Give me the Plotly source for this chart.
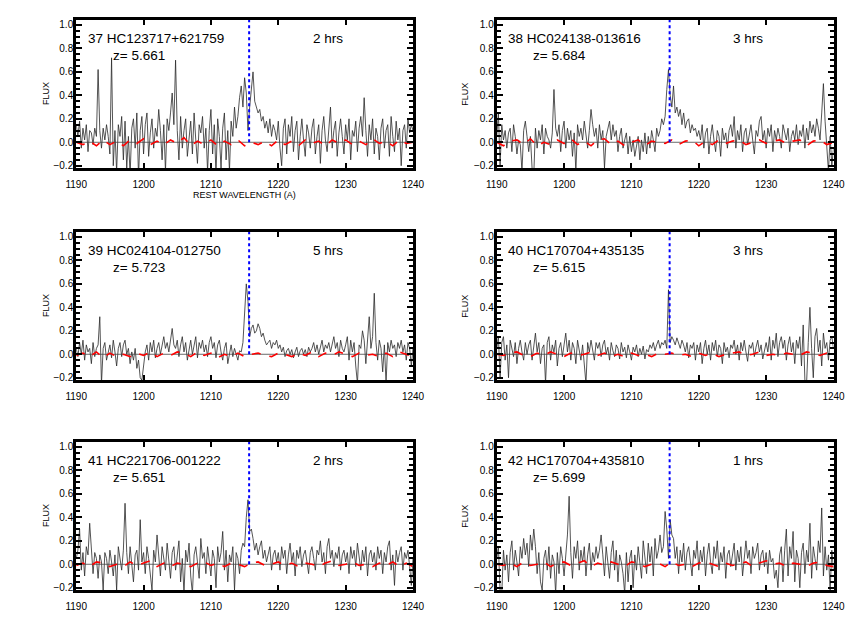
import numpy as np
import plotly.graph_objects as go

LYA = 1215.67
WAVE_RANGE = [1190, 1240]
FLUX_RANGE = [-0.221, 1.043]

NAMES = ["37 HC123717+621759", "38 HC024138-013616", "39 HC024104-012750",
         "40 HC170704+435135", "41 HC221706-001222", "42 HC170704+435810"]
REDSHIFTS = ["5.661", "5.684", "5.723", "5.615", "5.651", "5.699"]
HOURS = [2, 3, 5, 3, 2, 1]

# spectra sampled every 0.25 A from 1190 to 1240
FLUX_37 = [
    0.15, 0.05, 0.18, -0.05, 0.12, 0.02, 0.15, -0.08, 0.10, 0.08, -0.02, 0.12, 0.05, 0.62, 0.10, -0.05, 0.12, 0.02, 0.15, 0.05,
    -0.10, 0.72, -0.20, 0.10, -0.25, 0.15, 0.05, 0.22, -0.15, 0.18, -0.22, 0.05, -0.28, 0.12, 0.20, -0.05, 0.25, -0.30, 0.10, 0.22,
    -0.10, 0.15, 0.25, -0.12, 0.08, 0.20, -0.05, 0.12, 0.05, 0.28, 0.10, -0.15, 0.15, -0.25, 0.20, 0.10, 0.25, 0.42, 0.15, 0.70,
    0.10, -0.15, 0.22, -0.05, 0.10, 0.20, -0.12, 0.05, 0.18, -0.10, 0.25, 0.02, -0.18, 0.15, 0.08, 0.22, -0.05, 0.12, -0.25, 0.10,
    0.28, -0.10, 0.15, -0.28, 0.20, 0.05, -0.22, 0.12, 0.25, -0.15, 0.10, -0.25, 0.18, 0.05, 0.30, 0.12, 0.22, 0.38, 0.48, 0.30,
    0.55, 0.42, 0.10, 0.30, 0.45, 0.60, 0.35, 0.30, 0.25, 0.28, 0.18, 0.22, 0.12, 0.18, 0.08, 0.20, 0.05, 0.15, 0.10, 0.02,
    0.18, -0.05, -0.20, 0.12, 0.20, -0.10, 0.15, 0.05, 0.22, -0.08, 0.10, 0.18, -0.15, 0.05, 0.20, 0.02, -0.12, 0.15, 0.08, -0.05,
    0.12, 0.20, -0.10, 0.05, 0.15, -0.18, 0.10, 0.22, 0.02, -0.08, 0.15, 0.30, -0.05, 0.10, 0.18, -0.12, 0.08, 0.20, 0.05, -0.10,
    0.15, 0.02, 0.20, -0.15, 0.10, 0.05, 0.18, -0.08, 0.12, 0.22, 0.05, 0.38, 0.10, -0.12, 0.15, 0.02, 0.20, -0.10, 0.12, 0.05,
    -0.15, 0.12, 0.20, -0.05, 0.10, 0.15, -0.12, 0.22, 0.05, -0.08, 0.18, 0.02, 0.12, -0.20, 0.10, 0.15, -0.05, 0.20, 0.08, 0.15,
    0.10,
]
FLUX_38 = [
    0.05, 0.25, -0.20, 0.15, 0.02, 0.10, -0.05, 0.08, 0.12, -0.08, 0.15, 0.05, -0.10, 0.02, -0.02, -0.25, 0.10, 0.18, 0.05, -0.08,
    0.05, -0.22, -0.28, 0.12, -0.05, 0.10, 0.02, 0.15, -0.10, 0.12, 0.05, 0.02, -0.05, 0.08, 0.45, 0.12, 0.05, 0.15, -0.08, 0.10,
    0.18, -0.05, 0.12, 0.02, 0.10, -0.12, 0.08, -0.25, 0.15, 0.05, 0.12, 0.02, 0.18, 0.08, -0.05, 0.10, 0.28, 0.15, 0.05, 0.12,
    -0.05, 0.15, 0.02, 0.10, -0.22, 0.05, 0.12, 0.18, 0.02, 0.15, 0.05, 0.10, -0.08, 0.05, 0.12, -0.05, 0.02, 0.08, -0.10, 0.05,
    -0.08, 0.02, -0.12, -0.05, 0.05, -0.15, 0.02, -0.08, 0.08, -0.10, 0.05, -0.05, 0.10, 0.02, -0.08, 0.12, 0.05, 0.10, 0.20, 0.15,
    0.22, 0.45, 0.62, 0.40, 0.30, 0.48, 0.25, 0.30, 0.22, 0.28, 0.15, 0.25, 0.12, 0.18, 0.20, 0.08, 0.15, 0.10, 0.12, 0.05,
    0.10, 0.02, 0.15, -0.05, 0.08, 0.12, -0.10, 0.05, 0.15, 0.02, -0.08, 0.10, 0.05, -0.12, 0.12, 0.02, 0.08, -0.05, 0.10, 0.15,
    0.05, 0.22, -0.05, 0.10, 0.02, 0.15, -0.08, 0.08, 0.12, -0.02, 0.05, 0.15, 0.02, -0.10, 0.10, 0.05, 0.18, 0.22, 0.02, 0.10,
    -0.05, 0.12, 0.05, 0.15, -0.08, 0.10, 0.02, 0.12, 0.05, -0.05, 0.15, 0.08, 0.02, 0.12, -0.08, 0.05, 0.10, 0.02, 0.15, -0.02,
    0.10, 0.05, 0.15, -0.05, 0.12, 0.02, 0.18, 0.08, 0.15, 0.05, 0.20, 0.12, 0.02, 0.25, 0.50, 0.18, -0.10, -0.25, 0.05, -0.20,
    -0.05,
]
FLUX_39 = [
    0.05, -0.02, 0.10, 0.00, 0.12, -0.05, 0.08, 0.02, 0.05, -0.08, 0.10, -0.02, 0.05, 0.08, 0.32, -0.25, 0.05, 0.10, -0.05, 0.02,
    0.08, -0.03, 0.12, 0.02, -0.10, 0.05, 0.10, -0.02, 0.08, 0.12, 0.00, 0.05, -0.08, 0.02, -0.05, 0.05, -0.12, -0.05, -0.20, -0.22,
    -0.10, 0.02, 0.08, -0.05, 0.10, 0.02, 0.12, -0.03, 0.05, 0.10, 0.00, 0.08, 0.15, 0.05, 0.10, 0.02, 0.12, 0.22, 0.08, 0.05,
    0.12, -0.02, 0.08, 0.15, 0.02, 0.10, -0.05, 0.05, 0.12, 0.00, 0.08, 0.15, -0.03, 0.10, 0.05, 0.12, 0.02, 0.08, -0.02, 0.10,
    0.15, 0.05, 0.10, -0.03, 0.08, 0.12, 0.02, -0.05, 0.05, 0.10, -0.08, 0.02, 0.08, -0.02, 0.05, 0.00, -0.05, 0.03, 0.02, 0.10,
    0.40, 0.60, 0.45, 0.15, 0.22, 0.25, 0.18, 0.20, 0.26, 0.22, 0.15, 0.18, 0.12, 0.08, 0.10, 0.12, 0.05, 0.10, 0.08, 0.12,
    0.05, 0.08, 0.02, 0.06, -0.02, 0.03, 0.05, 0.00, 0.04, -0.03, 0.02, 0.06, -0.02, 0.03, 0.05, 0.00, 0.04, -0.02, 0.06, 0.02,
    0.05, 0.10, 0.02, 0.08, 0.00, 0.06, 0.12, 0.02, 0.08, 0.05, 0.10, 0.02, 0.08, 0.15, 0.05, 0.10, -0.02, 0.12, 0.05, 0.02,
    0.08, 0.15, -0.05, 0.12, 0.02, 0.10, -0.10, -0.25, 0.08, 0.05, 0.20, 0.12, -0.08, 0.10, 0.32, 0.05, 0.15, 0.52, 0.10, -0.05,
    0.12, 0.05, -0.15, 0.08, -0.25, 0.10, 0.02, 0.12, 0.05, 0.08, -0.02, 0.10, 0.05, 0.12, 0.02, 0.08, -0.05, 0.10, 0.05, -0.10,
    0.05,
]
FLUX_40 = [
    0.05, 0.15, -0.20, 0.10, 0.15, -0.05, 0.08, -0.20, 0.12, 0.05, -0.02, 0.10, -0.08, 0.05, 0.12, 0.02, -0.05, 0.10, 0.00, 0.08,
    0.12, -0.05, 0.05, 0.18, 0.02, 0.10, -0.08, 0.05, 0.08, -0.25, 0.10, 0.15, -0.05, 0.08, 0.02, 0.12, -0.10, 0.05, 0.10, -0.02,
    0.08, 0.18, 0.02, 0.12, -0.05, 0.10, 0.05, -0.08, 0.12, 0.02, -0.05, 0.08, -0.12, -0.25, 0.10, 0.02, 0.12, 0.05, -0.05, 0.10,
    0.05, 0.10, -0.02, 0.08, 0.12, 0.00, 0.06, -0.05, 0.10, 0.03, -0.02, 0.08, 0.05, -0.04, 0.10, 0.02, 0.06, -0.03, 0.08, 0.02,
    -0.05, 0.06, 0.02, 0.08, -0.02, 0.05, 0.00, 0.07, -0.04, 0.04, 0.02, 0.08, 0.05, 0.10, 0.03, 0.08, 0.12, 0.05, 0.10, 0.08,
    0.12, 0.05, 0.55, 0.10, 0.15, 0.12, 0.08, 0.14, 0.10, 0.05, 0.12, 0.08, 0.02, 0.10, -0.03, 0.08, 0.05, 0.10, -0.05, 0.08,
    0.02, 0.10, -0.08, 0.05, 0.12, 0.00, 0.08, -0.05, 0.10, 0.03, 0.12, -0.02, 0.08, 0.05, -0.08, 0.10, 0.02, 0.06, -0.03, 0.08,
    0.05, 0.12, 0.00, 0.08, -0.05, 0.10, 0.03, 0.12, 0.02, -0.06, 0.08, 0.05, 0.10, -0.02, 0.06, 0.12, 0.02, 0.08, -0.04, 0.05,
    0.10, 0.02, 0.15, -0.05, 0.12, 0.05, 0.18, -0.02, 0.10, 0.15, 0.05, 0.12, -0.05, 0.08, 0.15, 0.02, 0.10, -0.08, 0.12, 0.05,
    0.15, -0.10, 0.25, -0.22, -0.25, 0.10, 0.40, 0.05, -0.20, 0.15, 0.22, 0.02, 0.12, -0.10, 0.18, 0.05, 0.10, -0.05, 0.12, 0.15,
    0.05,
]
FLUX_41 = [
    0.05, 0.12, 0.30, -0.05, 0.10, -0.10, 0.15, 0.08, 0.35, 0.12, -0.08, 0.10, 0.05, -0.12, 0.08, 0.02, -0.22, 0.10, 0.05, -0.08,
    0.12, 0.02, -0.10, 0.08, -0.22, 0.15, 0.05, -0.05, 0.12, 0.52, 0.10, -0.08, 0.15, 0.02, -0.15, 0.08, 0.12, -0.05, 0.38, 0.02,
    0.10, -0.08, 0.15, 0.05, -0.12, -0.22, 0.12, 0.02, 0.25, 0.08, -0.10, 0.15, 0.05, -0.05, 0.18, 0.02, -0.12, 0.10, 0.15, -0.05,
    0.08, 0.20, -0.15, 0.05, -0.25, 0.12, 0.02, 0.18, -0.10, -0.25, 0.08, 0.15, 0.02, -0.12, 0.22, 0.05, 0.10, -0.08, 0.15, 0.02,
    -0.10, 0.12, 0.05, -0.20, 0.15, 0.02, 0.10, 0.28, -0.05, 0.12, -0.15, 0.08, 0.02, 0.15, -0.22, 0.10, 0.05, -0.08, 0.12, 0.18,
    0.15, 0.40, 0.55, 0.28, 0.30, 0.22, 0.12, 0.18, 0.08, 0.15, 0.20, 0.05, 0.12, 0.02, 0.10, 0.15, -0.05, 0.08, 0.12, 0.02,
    0.10, -0.05, 0.15, 0.05, 0.12, -0.08, 0.08, 0.18, 0.02, 0.10, -0.10, 0.12, 0.05, 0.15, -0.02, 0.08, 0.12, 0.02, -0.08, 0.10,
    0.15, 0.05, -0.05, 0.12, 0.08, 0.20, 0.02, 0.10, -0.08, 0.15, 0.22, 0.05, 0.12, -0.02, 0.10, 0.05, 0.15, -0.05, 0.08, 0.12,
    0.02, 0.10, -0.08, 0.15, 0.05, 0.12, -0.02, 0.18, 0.08, -0.05, 0.12, 0.02, 0.15, -0.10, 0.08, 0.12, 0.02, 0.10, -0.05, 0.15,
    0.05, 0.12, -0.08, 0.10, 0.02, 0.15, 0.20, -0.05, 0.08, -0.18, 0.12, 0.02, 0.10, 0.15, -0.05, 0.10, 0.05, 0.12, -0.02, -0.18,
    0.05,
]
FLUX_42 = [
    0.05, 0.15, -0.22, -0.25, 0.12, -0.05, 0.08, -0.15, 0.10, 0.20, -0.05, 0.12, 0.02, -0.10, 0.15, 0.05, 0.22, 0.08, 0.18, -0.02,
    0.25, 0.12, 0.30, 0.15, -0.08, 0.10, -0.15, -0.22, 0.05, 0.12, -0.05, 0.15, -0.12, 0.08, 0.02, -0.25, 0.10, -0.08, 0.15, 0.05,
    -0.10, 0.12, 0.25, 0.58, 0.10, -0.12, 0.15, 0.05, 0.20, -0.05, 0.12, 0.02, 0.15, -0.10, 0.08, 0.18, -0.05, 0.10, 0.02, 0.15,
    0.05, 0.12, 0.25, 0.08, -0.10, 0.15, 0.02, -0.12, 0.10, 0.20, -0.05, 0.12, -0.15, 0.08, 0.02, -0.08, -0.25, 0.10, -0.15, 0.05,
    0.12, -0.20, 0.08, -0.05, 0.15, 0.02, -0.12, 0.20, 0.05, -0.08, 0.18, 0.02, 0.15, -0.10, 0.22, 0.05, 0.12, 0.25, 0.10, 0.15,
    0.45, 0.30, 0.05, 0.38, 0.25, 0.22, 0.05, 0.15, -0.08, 0.12, 0.02, 0.18, -0.05, 0.10, 0.15, 0.02, -0.10, 0.12, 0.05, 0.20,
    -0.05, 0.12, 0.02, 0.15, -0.10, 0.08, 0.18, 0.02, -0.08, 0.15, 0.05, 0.20, -0.05, 0.10, 0.02, 0.15, -0.12, 0.08, 0.12, -0.02,
    0.10, 0.18, -0.05, 0.12, 0.02, 0.15, -0.10, 0.08, 0.20, 0.05, 0.12, -0.08, 0.15, 0.05, 0.10, 0.18, -0.05, 0.08, 0.12, -0.02,
    0.10, -0.08, 0.12, 0.02, 0.05, -0.12, -0.05, -0.20, 0.08, 0.15, -0.15, 0.12, 0.30, -0.10, 0.15, 0.05, 0.28, -0.15, 0.12, 0.05,
    -0.20, 0.10, 0.18, -0.08, 0.12, 0.02, 0.35, -0.12, 0.15, 0.05, -0.05, 0.20, 0.10, 0.48, -0.10, 0.15, -0.05, 0.08, -0.22, 0.12,
    -0.05,
]

# sky residual (red dashed), sampled every 1 A
SKY_37 = [0.00, -0.02, 0.01, -0.03, 0.02, -0.02, 0.01, -0.03, 0.02, -0.01, 0.03, -0.02, 0.01, -0.02, 0.02, -0.01, 0.04,
          -0.03, 0.01, -0.02, 0.02, -0.03, 0.01, -0.02, 0.02, -0.03, 0.00, -0.02, 0.01, -0.03, 0.02, -0.02, 0.01, -0.03,
          0.02, -0.01, 0.01, -0.03, 0.02, -0.01, 0.02, -0.02, 0.01, -0.02, 0.03, -0.01, 0.01, -0.03, 0.02, -0.01, 0.00]
SKY_38 = [0.00, -0.03, 0.01, 0.02, -0.02, 0.03, -0.03, 0.00, -0.02, 0.02, -0.01, 0.03, -0.02, 0.01, -0.03, 0.02, 0.03,
          -0.02, 0.01, -0.03, 0.00, 0.02, -0.03, 0.01, 0.00, -0.01, 0.02, -0.02, 0.01, 0.02, -0.03, 0.01, -0.02, 0.02,
          -0.01, 0.01, 0.02, -0.02, 0.00, 0.02, -0.01, 0.01, 0.02, -0.01, 0.01, 0.02, -0.03, 0.01, 0.02, -0.02, 0.00]
SKY_39 = [-0.01, 0.01, -0.02, 0.02, -0.03, 0.01, -0.02, 0.00, -0.02, 0.01, -0.01, 0.02, -0.02, 0.01, -0.01, 0.02, 0.01,
          -0.02, 0.02, -0.01, 0.01, -0.03, 0.00, -0.02, 0.01, -0.02, 0.00, 0.01, -0.01, -0.02, 0.01, 0.00, -0.02, 0.01,
          -0.01, 0.02, -0.02, 0.01, -0.01, 0.02, 0.00, -0.02, 0.01, -0.01, 0.00, -0.02, 0.01, -0.02, 0.02, 0.00, -0.02]
SKY_40 = [0.00, -0.01, 0.01, 0.02, -0.01, -0.02, 0.01, -0.01, 0.02, 0.00, -0.02, 0.01, -0.01, 0.00, 0.02, -0.01, 0.01,
          -0.02, 0.00, -0.02, 0.01, -0.01, 0.00, -0.02, 0.01, 0.00, 0.01, -0.01, 0.00, -0.02, 0.01, -0.01, 0.01, -0.02,
          0.00, 0.01, 0.02, -0.01, 0.00, 0.02, -0.01, 0.00, -0.01, 0.01, 0.00, -0.01, 0.02, 0.01, -0.01, 0.01, -0.01]
SKY_41 = [-0.01, 0.01, -0.02, 0.02, 0.01, -0.02, 0.00, -0.02, 0.02, -0.01, 0.01, 0.03, -0.02, 0.01, -0.02, 0.01, 0.00,
          -0.02, 0.01, 0.02, -0.01, 0.01, -0.02, 0.01, 0.00, -0.02, 0.01, 0.02, -0.01, 0.00, 0.02, -0.01, 0.01, -0.02,
          0.01, 0.00, -0.02, 0.01, 0.03, -0.01, 0.00, 0.02, -0.01, 0.00, -0.02, 0.01, -0.01, 0.02, -0.02, 0.01, -0.02]
SKY_42 = [0.00, -0.01, 0.01, -0.02, 0.02, -0.01, 0.00, 0.02, -0.02, 0.01, 0.02, -0.01, 0.01, 0.03, -0.02, 0.01, -0.01,
          0.02, 0.00, -0.02, 0.02, 0.01, -0.02, 0.00, 0.01, -0.02, 0.02, -0.01, 0.00, -0.02, 0.01, 0.02, 0.00, -0.02,
          0.01, -0.01, 0.00, 0.02, -0.02, 0.01, 0.03, 0.00, 0.01, -0.02, 0.01, 0.00, -0.02, 0.01, 0.02, -0.01, -0.02]

FLUXES = [FLUX_37, FLUX_38, FLUX_39, FLUX_40, FLUX_41, FLUX_42]
SKIES = [SKY_37, SKY_38, SKY_39, SKY_40, SKY_41, SKY_42]

# panel frames in page pixels (864 x 637)
W, H = 864, 637
COL_PX = [(67, 413), (499, 845)]
ROW_PX = [(20, 169), (233, 382), (444, 593)]
FLUX_X_PX = [36, 466]

FONT = "Liberation Sans, Arial, Helvetica, sans-serif"

fig = go.Figure()
layout = {}
annotations = []

for i in range(6):
    row, col = divmod(i, 2)
    suffix = "" if i == 0 else str(i + 1)
    xa, ya = "x" + suffix, "y" + suffix

    flux = FLUXES[i]
    sky = SKIES[i]
    wave = np.linspace(WAVE_RANGE[0], WAVE_RANGE[1], len(flux))
    sky_wave = np.linspace(WAVE_RANGE[0], WAVE_RANGE[1], len(sky))

    fig.add_trace(go.Scatter(x=wave, y=flux, mode="lines", line=dict(color="#2a2a2a", width=0.8),
                             xaxis=xa, yaxis=ya, showlegend=False, hoverinfo="skip"))
    fig.add_trace(go.Scatter(x=WAVE_RANGE, y=[0, 0], mode="lines", line=dict(color="#444444", width=0.8),
                             xaxis=xa, yaxis=ya, showlegend=False, hoverinfo="skip"))
    fig.add_trace(go.Scatter(x=sky_wave, y=sky, mode="lines", line=dict(color="red", width=1.6, dash="dash"),
                             xaxis=xa, yaxis=ya, showlegend=False, hoverinfo="skip"))
    fig.add_trace(go.Scatter(x=[LYA, LYA], y=[0, FLUX_RANGE[1]], mode="lines",
                             line=dict(color="#0000ff", width=2, dash="dot"),
                             xaxis=xa, yaxis=ya, showlegend=False, hoverinfo="skip"))

    x0, x1 = COL_PX[col]
    y0, y1 = ROW_PX[row]
    layout["xaxis" + suffix] = dict(
        domain=[x0 / W, x1 / W], anchor=ya, range=WAVE_RANGE,
        showline=True, linewidth=3, linecolor="black", mirror="allticks",
        ticks="inside", ticklen=5, tickwidth=2, tickcolor="black",
        tick0=1190, dtick=10, showgrid=False, zeroline=False,
        tickfont=dict(size=10, family=FONT, color="black"), ticklabelstandoff=5,
    )
    layout["yaxis" + suffix] = dict(
        domain=[1 - y1 / H, 1 - y0 / H], anchor=xa, range=FLUX_RANGE,
        showline=True, linewidth=3, linecolor="black", mirror="allticks",
        ticks="inside", ticklen=6, tickwidth=2, tickcolor="black",
        tick0=0, dtick=0.2, tickformat=".1f", showgrid=False, zeroline=False,
        minor=dict(ticks="inside", dtick=0.05, ticklen=4, tickwidth=1.5, tickcolor="black"),
        tickfont=dict(size=10, family=FONT, color="black"), ticklabelstandoff=-2,
    )

    label_font = dict(size=13.5, family=FONT, color="black")
    annotations.append(dict(x=1191.45, y=0.881, xref=xa, yref=ya, text=NAMES[i], showarrow=False,
                            xanchor="left", yanchor="middle", font=label_font))
    annotations.append(dict(x=1195.1, y=0.737, xref=xa, yref=ya, text="z= " + REDSHIFTS[i], showarrow=False,
                            xanchor="left", yanchor="middle", font=label_font))
    annotations.append(dict(x=1224.8, y=0.881, xref=xa, yref=ya, text=f"{HOURS[i]} hrs", showarrow=False,
                            xanchor="left", yanchor="middle", font=label_font))
    annotations.append(dict(x=FLUX_X_PX[col] / W, y=1 - (y0 + y1) / 2 / H, xref="paper", yref="paper",
                            text="FLUX", textangle=-90, showarrow=False, xanchor="center", yanchor="middle",
                            font=dict(size=9, family=FONT, color="black")))

annotations.append(dict(x=240 / W, y=1 - 196 / H, xref="paper", yref="paper", text="REST WAVELENGTH (A)",
                        showarrow=False, xanchor="center", yanchor="middle",
                        font=dict(size=9, family=FONT, color="black")))

fig.update_layout(
    width=W, height=H,
    margin=dict(l=0, r=0, t=0, b=0),
    paper_bgcolor="white", plot_bgcolor="white",
    annotations=annotations,
    **layout,
)

# page pixels = figure pixels
fig.write_html("out.html", config={"displayModeBar": False},
               post_script="document.body.style.margin='0px';")
